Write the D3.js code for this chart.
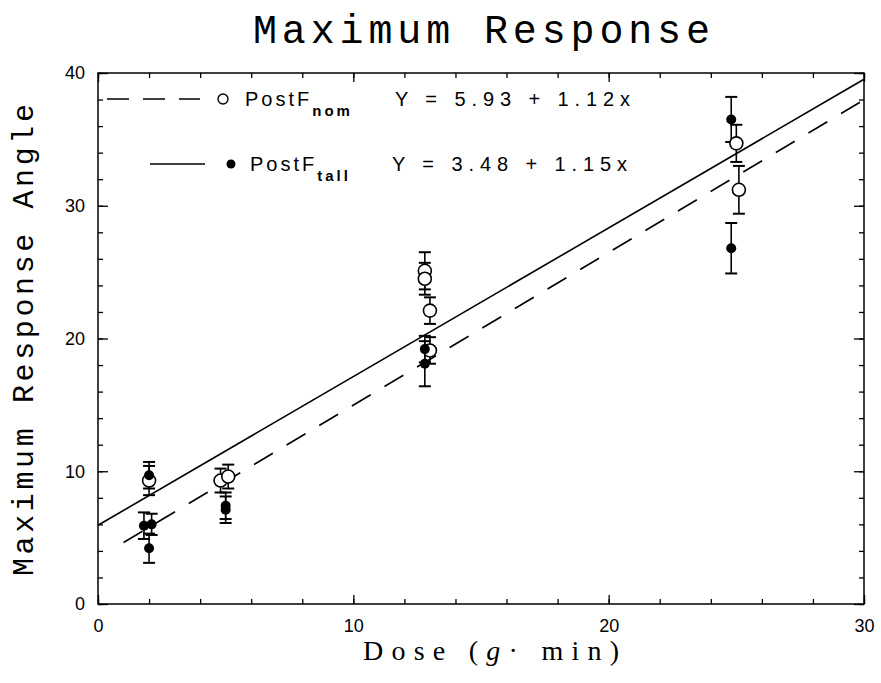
<!DOCTYPE html>
<html>
<head>
<meta charset="utf-8">
<script src="https://cdn.jsdelivr.net/npm/d3@7"></script>
<style>
  body { margin: 0; background: #fff; }
  svg { display: block; }
</style>
</head>
<body>
<script>
// data
var nomX = [2.0, 4.8, 5.1, 12.8, 12.8, 13.0, 13.0, 25.0, 25.1];
var nomY = [9.3, 9.3, 9.6, 25.1, 24.5, 22.1, 19.1, 34.7, 31.2];
var nomErr = [1.1, 0.9, 0.9, 1.4, 1.2, 1.0, 1.0, 1.4, 1.8];

var tallX = [2.0, 1.8, 2.1, 2.0, 5.0, 5.0, 12.8, 12.8, 24.8, 24.8];
var tallY = [9.7, 5.9, 6.0, 4.2, 7.1, 7.4, 19.2, 18.1, 36.5, 26.8];
var tallErr = [1.0, 1.0, 0.8, 1.1, 1.0, 1.0, 1.0, 1.7, 1.7, 1.9];

// regression lines as drawn (intercept, slope, x start)
var solidFit = [5.93, 1.12, 0];
var dashFit = [3.48, 1.15, 1];

var xTicks = [0, 10, 20, 30];
var yTicks = [0, 10, 20, 30, 40];

var W = 881, H = 683;
var pL = 98, pR = 864, pT = 73, pB = 604;

var svg = d3.select("body").append("svg")
    .attr("width", W)
    .attr("height", H);

var x = d3.scaleLinear().domain([0, 30]).range([pL, pR]);
var y = d3.scaleLinear().domain([0, 40]).range([pB, pT]);

// title
svg.append("text")
    .attr("x", 253).attr("y", 43)
    .attr("textLength", 457).attr("lengthAdjust", "spacing")
    .style("font-family", "Liberation Mono")
    .style("font-size", "40px")
    .text("Maximum Response");

// frame
svg.append("rect")
    .attr("x", pL).attr("y", pT)
    .attr("width", pR - pL).attr("height", pB - pT)
    .attr("fill", "none").attr("stroke", "#000").attr("stroke-width", 1.5);

// axes with inward ticks
var minorX = d3.range(0, 31, 2);
var minorY = d3.range(0, 41, 2);

function tickAxis(axis, g, size) {
  g.call(axis.tickSize(size).tickFormat(""));
  g.select(".domain").remove();
  g.selectAll("line").attr("stroke", "#000").attr("stroke-width", 1.3);
}

tickAxis(d3.axisBottom(x).tickValues(minorX), svg.append("g").attr("transform", "translate(0," + pB + ")"), -5);
tickAxis(d3.axisBottom(x).tickValues(xTicks), svg.append("g").attr("transform", "translate(0," + pB + ")"), -9);
tickAxis(d3.axisTop(x).tickValues(minorX), svg.append("g").attr("transform", "translate(0," + pT + ")"), -5);
tickAxis(d3.axisTop(x).tickValues(xTicks), svg.append("g").attr("transform", "translate(0," + pT + ")"), -9);
tickAxis(d3.axisLeft(y).tickValues(minorY), svg.append("g").attr("transform", "translate(" + pL + ",0)"), -5);
tickAxis(d3.axisLeft(y).tickValues(yTicks), svg.append("g").attr("transform", "translate(" + pL + ",0)"), -10);
tickAxis(d3.axisRight(y).tickValues(minorY), svg.append("g").attr("transform", "translate(" + pR + ",0)"), -5);
tickAxis(d3.axisRight(y).tickValues(yTicks), svg.append("g").attr("transform", "translate(" + pR + ",0)"), -10);

// tick labels
var xLab = svg.append("g")
    .attr("transform", "translate(0," + pB + ")")
    .call(d3.axisBottom(x).tickValues(xTicks).tickSize(0).tickPadding(15));
xLab.select(".domain").remove();
xLab.selectAll("text")
    .style("font-family", "Liberation Sans")
    .style("font-size", "18px")
    .attr("fill", "#000");

var yLab = svg.append("g")
    .attr("transform", "translate(" + pL + ",0)")
    .call(d3.axisLeft(y).tickValues(yTicks).tickSize(0).tickPadding(13));
yLab.select(".domain").remove();
yLab.selectAll("text")
    .style("font-family", "Liberation Sans")
    .style("font-size", "18px")
    .attr("fill", "#000");

// axis titles
svg.append("text")
    .attr("x", 363).attr("y", 660)
    .attr("textLength", 256).attr("lengthAdjust", "spacing")
    .style("font-family", "Liberation Serif")
    .style("font-size", "28px")
    .html("Dose (<tspan font-style='italic'>g</tspan>\u00b7 min)");

svg.append("text")
    .attr("transform", "translate(33,340) rotate(-90)")
    .attr("x", -236)
    .attr("textLength", 472).attr("lengthAdjust", "spacing")
    .style("font-family", "Liberation Mono")
    .style("font-size", "30px")
    .text("Maximum Response Angle");

// regression lines
function fitLine(f) {
  return [[f[2], f[0] + f[1] * f[2]], [30, f[0] + f[1] * 30]];
}
var line = d3.line().x(function(d) { return x(d[0]); }).y(function(d) { return y(d[1]); });

svg.append("path")
    .attr("d", line(fitLine(solidFit)))
    .attr("fill", "none").attr("stroke", "#000").attr("stroke-width", 1.6);
svg.append("path")
    .attr("d", line(fitLine(dashFit)))
    .attr("fill", "none").attr("stroke", "#000").attr("stroke-width", 1.6)
    .attr("stroke-dasharray", "22,16");

// error bars
function errBars(xs, ys, es) {
  var g = svg.append("g").attr("stroke", "#000").attr("stroke-width", 1.6);
  xs.forEach(function(xv, i) {
    g.append("line")
        .attr("x1", x(xv)).attr("x2", x(xv))
        .attr("y1", y(ys[i] - es[i])).attr("y2", y(ys[i] + es[i]));
    [ys[i] - es[i], ys[i] + es[i]].forEach(function(v) {
      g.append("line")
          .attr("x1", x(xv) - 6).attr("x2", x(xv) + 6)
          .attr("y1", y(v)).attr("y2", y(v))
          .attr("stroke-width", 2);
    });
  });
}
errBars(nomX, nomY, nomErr);
errBars(tallX, tallY, tallErr);

// markers
svg.append("g").selectAll("circle")
    .data(nomX)
    .enter().append("circle")
    .attr("cx", function(d) { return x(d); })
    .attr("cy", function(d, i) { return y(nomY[i]); })
    .attr("r", 6.5)
    .attr("fill", "#fff").attr("stroke", "#000").attr("stroke-width", 1.6);

svg.append("g").selectAll("circle")
    .data(tallX)
    .enter().append("circle")
    .attr("cx", function(d) { return x(d); })
    .attr("cy", function(d, i) { return y(tallY[i]); })
    .attr("r", 5)
    .attr("fill", "#000");

// legend
var leg = svg.append("g")
    .style("font-family", "Liberation Sans")
    .style("font-size", "20px");

leg.append("line")
    .attr("x1", 107).attr("x2", 200).attr("y1", 99).attr("y2", 99)
    .attr("stroke", "#000").attr("stroke-width", 1.6)
    .attr("stroke-dasharray", "22,14");
leg.append("circle")
    .attr("cx", 223).attr("cy", 99).attr("r", 5)
    .attr("fill", "#fff").attr("stroke", "#000").attr("stroke-width", 1.4);
leg.append("text")
    .attr("x", 245).attr("y", 106)
    .style("letter-spacing", "3px")
    .html("PostF<tspan dy='10' font-size='15' font-weight='bold'>nom</tspan>");
leg.append("text")
    .attr("x", 395).attr("y", 106)
    .attr("textLength", 235).attr("lengthAdjust", "spacing")
    .text("Y = 5.93 + 1.12x");

leg.append("line")
    .attr("x1", 150).attr("x2", 205).attr("y1", 164).attr("y2", 164)
    .attr("stroke", "#000").attr("stroke-width", 1.6);
leg.append("circle")
    .attr("cx", 231).attr("cy", 164).attr("r", 4.5)
    .attr("fill", "#000");
leg.append("text")
    .attr("x", 250).attr("y", 171)
    .style("letter-spacing", "3px")
    .html("PostF<tspan dy='10' font-size='15' font-weight='bold'>tall</tspan>");
leg.append("text")
    .attr("x", 392).attr("y", 171)
    .attr("textLength", 235).attr("lengthAdjust", "spacing")
    .text("Y = 3.48 + 1.15x");
</script>
</body>
</html>
